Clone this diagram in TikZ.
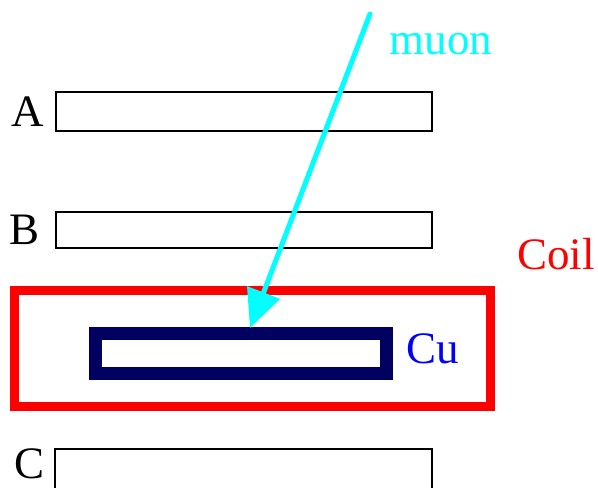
\documentclass[tikz,border=0pt]{standalone}
\usepackage{fontspec}
\setmainfont{Liberation Serif}
\usetikzlibrary{arrows.meta}
\definecolor{cunavy}{RGB}{0,0,96}
\definecolor{muoncyan}{RGB}{0,255,255}
\definecolor{coilred}{RGB}{255,0,0}
\definecolor{cublue}{RGB}{0,0,255}
\tikzset{
  counter/.style={draw=black, line width=1.5pt},
  lbl/.style={font=\fontsize{45}{50}\selectfont, inner sep=0pt},
}
\begin{document}
\begin{tikzpicture}[x=1pt, y=-1pt]
  \useasboundingbox (0,0) rectangle (598,488);
  % scintillator counters
  \draw[counter] (56,92) rectangle (432,131) coordinate (boxA);
  \draw[counter] (56,212) rectangle (432,248) coordinate (boxB);
  \draw[counter] (55,449) rectangle (432,495) coordinate (boxC);
  \node[lbl] (labA) at (28,112) {A};
  \node[lbl] (labB) at (25,230) {B};
  \node[lbl] (labC) at (30,464) {C};
  % coil
  \draw[coilred, line width=9pt] (14.5,290.5) rectangle (490,406.5);
  \node[lbl, text=coilred] (coil) at (556,254) {Coil};
  % copper absorber
  \draw[cunavy, line width=13pt] (95.5,333.5) rectangle (386,373.5);
  \node[lbl, text=cublue] (culab) at (433,349) {Cu};
  % incoming muon
  \coordinate (start) at (370,14);
  \coordinate (tip) at (250,328);
  \draw[muoncyan, line width=5pt, line cap=round,
        -{Triangle[length=38pt, width=34pt]}] (start) -- (tip);
  \node[lbl, text=muoncyan] (muon) at (441,44) {muon};
\end{tikzpicture}
\end{document}
